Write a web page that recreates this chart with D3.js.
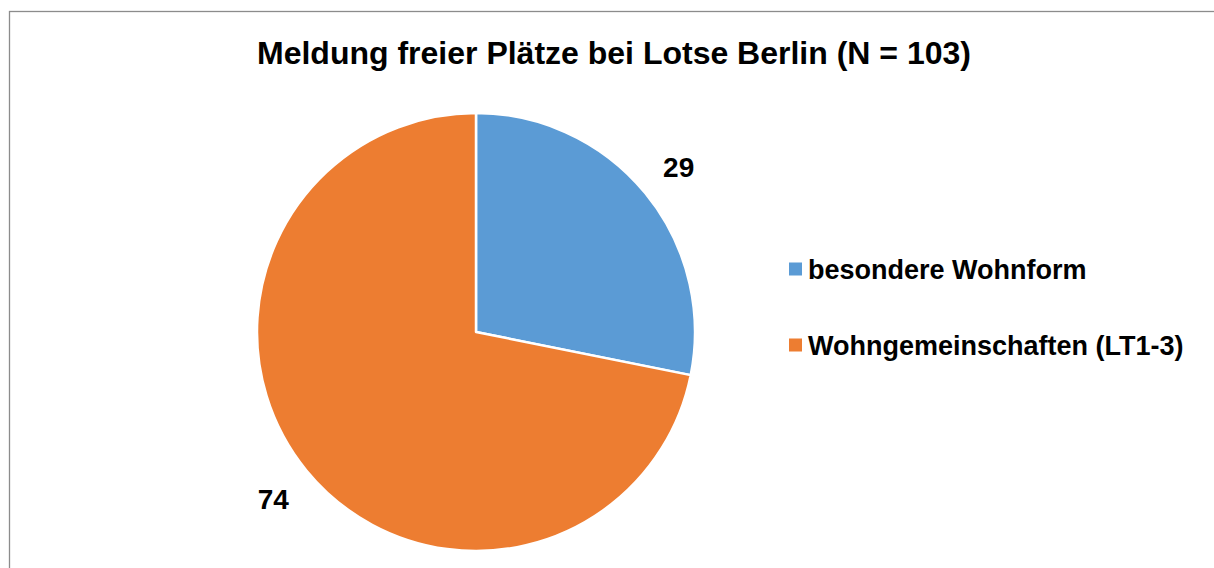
<!DOCTYPE html>
<html><head><meta charset="utf-8">
<script src="https://cdn.jsdelivr.net/npm/d3@7"></script>
<style>html,body{margin:0;padding:0;background:#fff;}svg{display:block;}</style>
</head><body>
<svg id="chart" width="1214" height="568"></svg>
<script>
const categories = ["besondere Wohnform", "Wohngemeinschaften (LT1-3)"];
const values = [29, 74];
const colors = ["#5B9BD5", "#ED7D31"];
const title = "Meldung freier Plätze bei Lotse Berlin (N = 103)";

const svg = d3.select("#chart");
const font = "Liberation Sans, Arial, sans-serif";

svg.append("rect").attr("x", 9.5).attr("y", 11.5).attr("width", 1300).attr("height", 700)
  .attr("fill", "#fff").attr("stroke", "#8c8c8c").attr("stroke-width", 1.3);

svg.append("text").attr("x", 614).attr("y", 64).attr("text-anchor", "middle")
  .attr("font-family", font).attr("font-weight", "bold").attr("font-size", 32)
  .attr("fill", "#000").text(title);

const cx = 476, cy = 332, r = 219;
const pie = d3.pie().sort(null).value(d => d);
const arcs = pie(values);
const arc = d3.arc().innerRadius(0).outerRadius(r);
const labelArc = d3.arc().innerRadius(262).outerRadius(262);

const g = svg.append("g").attr("transform", `translate(${cx},${cy})`);
g.selectAll("path").data(arcs).enter().append("path")
  .attr("d", arc).attr("fill", (d, i) => colors[i])
  .attr("stroke", "#fff").attr("stroke-width", 2.5).attr("stroke-linejoin", "round");

g.selectAll("text.lbl").data(arcs).enter().append("text").attr("class", "lbl")
  .attr("transform", d => `translate(${labelArc.centroid(d)})`)
  .attr("text-anchor", "middle").attr("dy", "0.4em")
  .attr("font-family", font).attr("font-weight", "bold").attr("font-size", 28)
  .attr("fill", "#000").text(d => d.data);

const legend = svg.append("g").attr("transform", "translate(789,269)");
const items = legend.selectAll("g").data(categories).enter().append("g")
  .attr("transform", (d, i) => `translate(0,${i * 76})`);
items.append("rect").attr("x", 0).attr("y", -6.5).attr("width", 13).attr("height", 13)
  .attr("fill", (d, i) => colors[i]);
items.append("text").attr("x", 19).attr("dy", "0.36em")
  .attr("font-family", font).attr("font-weight", "bold").attr("font-size", 27)
  .attr("fill", "#000").text(d => d);
</script>
</body></html>
